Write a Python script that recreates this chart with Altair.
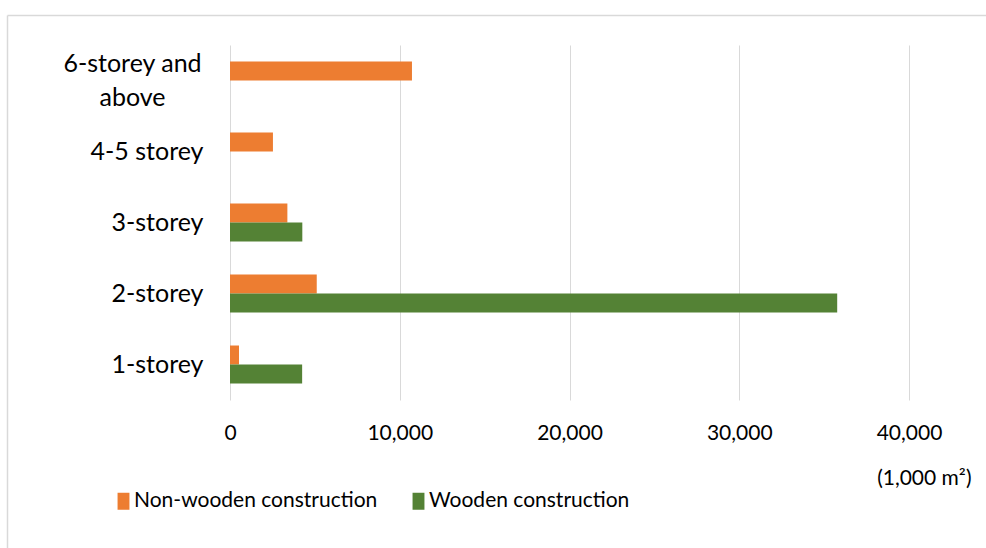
import altair as alt
import pandas as pd

categories = ["6-storey and above", "4-5 storey", "3-storey", "2-storey", "1-storey"]
non_wooden = [10720, 2530, 3380, 5110, 530]
wooden = [None, None, 4260, 35770, 4250]
series = ["Non-wooden construction", "Wooden construction"]
colors = ["#ED7D31", "#548235"]
x_ticks = [0, 10000, 20000, 30000, 40000]
unit_label = "(1,000 m²)"

rows = []
for c, nw, w in zip(categories, non_wooden, wooden):
    for s, v in zip(series, [nw, w]):
        if v is not None:
            rows.append({"category": c, "series": s, "value": v})
df = pd.DataFrame(rows)

FONT = "Lato"
BIG = "6-storey and above"
test = f"datum.value == '{BIG}'"
cond_align = {"condition": {"test": test, "value": "center"}, "value": "right"}
cond_pad = {"condition": {"test": test, "value": 98}, "value": 27}
cond_off = {"condition": {"test": test, "value": -17}, "value": 0}

bars = alt.Chart(df).mark_bar().encode(
    x=alt.X(
        "value:Q",
        scale=alt.Scale(domain=[0, 40000], nice=False),
        axis=alt.Axis(
            values=x_ticks, format=",d", title=unit_label,
            grid=True, gridColor="#d9d9d9", gridWidth=1,
            domain=False, ticks=False, labelFlush=False,
            labelFont=FONT, labelFontSize=21, labelColor="#000000", labelPadding=22,
            titleFont=FONT, titleFontSize=21, titleFontWeight="normal", titleColor="#000000",
            titleAlign="right", titleX=741, titleY=78, titleBaseline="middle",
        ),
    ),
    y=alt.Y(
        "category:N", sort=categories,
        scale=alt.Scale(paddingInner=0.465, paddingOuter=0.2325),
        axis=alt.Axis(
            title=None, domain=False, ticks=False, grid=False,
            labelFont=FONT, labelFontSize=25, labelColor="#000000",
            labelAlign=cond_align, labelPadding=cond_pad, labelOffset=cond_off,
            labelBaseline="middle",
            labelLineHeight=34, labelOverlap=False, labelLimit=400,
            labelExpr=f"{test} ? ['6-storey and', 'above'] : datum.value",
        ),
    ),
    yOffset=alt.YOffset("series:N", sort=series, scale=alt.Scale(paddingInner=0, paddingOuter=0)),
    color=alt.Color(
        "series:N", sort=series,
        scale=alt.Scale(domain=series, range=colors),
        legend=alt.Legend(
            title=None, orient="none", legendX=-117, legendY=445.5, direction="horizontal",
            symbolType="M-0.7,-1L0.7,-1L0.7,1L-0.7,1Z", symbolSize=289, symbolStrokeWidth=0,
            labelFont=FONT, labelFontSize=21, labelColor="#000000", labelOffset=0,
            columnPadding=30, padding=0, labelLimit=400,
        ),
    ),
)

frame_data = alt.Data(values=[{"k": 1}])
frame_v = alt.Chart(frame_data).mark_rule(color="#d9d9d9", strokeWidth=1.5).encode(
    x=alt.value(-222.5), y=alt.value(-29.5), y2=alt.value(520)
)
frame_h = alt.Chart(frame_data).mark_rule(color="#d9d9d9", strokeWidth=1.5).encode(
    x=alt.value(-222.5), x2=alt.value(780), y=alt.value(-29.5)
)

chart = alt.layer(frame_v, frame_h, bars).properties(
    width=679, height=355,
    autosize=alt.AutoSizeParams(type="none"),
    padding={"left": 230, "top": 45, "right": 77, "bottom": 148},
    background="#ffffff",
).configure_view(stroke=None)

chart.save("out.html", embed_options={"renderer": "svg", "actions": False})
